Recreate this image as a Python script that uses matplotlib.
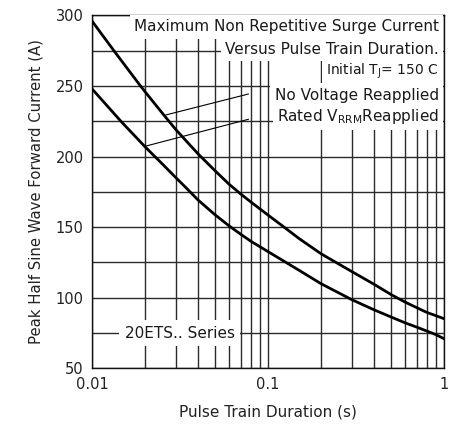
import matplotlib
matplotlib.use("Agg")
import matplotlib.pyplot as plt
from matplotlib.ticker import FixedLocator, NullFormatter

# Data
t_upper = [0.01, 0.0135, 0.019, 0.02, 0.025, 0.03, 0.04, 0.05, 0.06, 0.07, 0.08, 0.1,
           0.122, 0.15, 0.2, 0.3, 0.4, 0.5, 0.6, 0.7, 0.8, 0.9, 1.0]
i_upper = [296, 274, 249.5, 246, 231, 219, 202, 190, 180.5, 173.5, 167.8, 158.6,
           150.5, 142, 131.2, 118.5, 109.6, 102.3, 97, 93, 89.6, 87.3, 85.2]
t_lower = [0.01, 0.0146, 0.02, 0.025, 0.03, 0.0345, 0.04, 0.05, 0.06, 0.07, 0.08, 0.1,
           0.15, 0.2, 0.3, 0.4, 0.5, 0.6, 0.7, 0.8, 0.9, 1.0]
i_lower = [248, 225, 207, 195, 185, 177.5, 169.3, 158.8, 151, 145, 140, 132.7,
           119.5, 110, 98.6, 91.5, 86.4, 82.3, 79.2, 76.4, 73.9, 71]

x_ticks = [0.01, 0.1, 1]
x_ticklabels = ["0.01", "0.1", "1"]
y_ticks = [50, 100, 150, 200, 250, 300]
y_minor = [75, 125, 175, 225, 275]

plt.rcParams['font.family'] = ['DejaVu Sans']

fig = plt.figure(figsize=(4.51, 4.30), dpi=100)
ax = fig.add_axes([0.204, 0.1433, 0.7805, 0.8209])

ax.set_xscale('log')
ax.set_xlim(0.01, 1)
ax.set_ylim(50, 300)

minor_x = [m * d for d in (0.01, 0.1) for m in range(2, 10)]
ax.xaxis.set_major_locator(FixedLocator(x_ticks))
ax.xaxis.set_minor_locator(FixedLocator(minor_x))
ax.xaxis.set_minor_formatter(NullFormatter())
ax.set_xticklabels(x_ticklabels)
ax.yaxis.set_major_locator(FixedLocator(y_ticks))
ax.yaxis.set_minor_locator(FixedLocator(y_minor))
ax.grid(which='both', color='#2a2a2a', linewidth=1.0)
ax.set_axisbelow(True)
ax.tick_params(which='both', length=0, labelsize=10.5, pad=6, colors='#222222')
for s in ax.spines.values():
    s.set_color('#111111')
    s.set_linewidth(1.0)

ax.plot(t_upper, i_upper, color='black', linewidth=2.0, zorder=3, solid_joinstyle='round')
ax.plot(t_lower, i_lower, color='black', linewidth=2.0, zorder=3, solid_joinstyle='round')

# leader lines
ax.plot([0.0263, 0.0773], [229.5, 244.3], color='black', linewidth=0.8, zorder=3)
ax.plot([0.0203, 0.0773], [207.5, 226.4], color='black', linewidth=0.8, zorder=3)

box = dict(facecolor='white', edgecolor='none', pad=3)
tx = ax.get_yaxis_transform()
fs = 11
ax.text(0.985, 291.8, "Maximum Non Repetitive Surge Current", transform=tx,
        ha='right', va='center', fontsize=fs, bbox=box, zorder=4, color='#1a1a1a')
ax.text(0.985, 276, "Versus Pulse Train Duration.", transform=tx,
        ha='right', va='center', fontsize=fs, bbox=box, zorder=4, color='#1a1a1a')
ax.text(0.985, 260.3, "Initial T$_\\mathregular{J}$= 150 C", transform=tx,
        ha='right', va='center', fontsize=fs - 1, bbox=box, zorder=4, color='#1a1a1a')
ax.text(0.985, 243.6, "No Voltage Reapplied", transform=tx,
        ha='right', va='center', fontsize=fs, bbox=box, zorder=4, color='#1a1a1a')
ax.text(0.985, 228.4, "Rated V$_\\mathregular{RRM}$Reapplied", transform=tx,
        ha='right', va='center', fontsize=fs, bbox=box, zorder=4, color='#1a1a1a')

ax.text(0.0316, 75, "20ETS.. Series", ha='center', va='center', fontsize=fs,
        bbox=dict(facecolor='white', edgecolor='none', pad=4), zorder=4, color='#1a1a1a')

ax.set_xlabel("Pulse Train Duration (s)", fontsize=11, labelpad=9, color='#222222')
ax.set_ylabel("Peak Half Sine Wave Forward Current (A)", fontsize=10.7, labelpad=9, color='#222222')

fig.savefig("out.png", dpi=100)
